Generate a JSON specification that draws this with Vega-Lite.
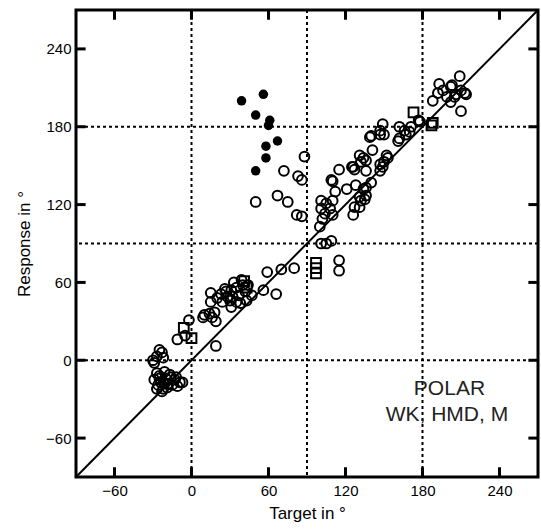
{
  "$schema": "https://vega.github.io/schema/vega-lite/v6.json",
  "width": 462,
  "height": 467,
  "autosize": {"type": "none"},
  "padding": {"left": 76, "top": 10, "right": 3, "bottom": 52},
  "background": "white",
  "datasets": {
    "pts": [
      {"t":-27,"r":-10,"k":"open"},{"t":-25,"r":-14,"k":"open"},{"t":-21,"r":-9,"k":"open"},{"t":-17,"r":-11,"k":"open"},{"t":-13,"r":-15,"k":"open"},{"t":-9,"r":-17,"k":"open"},{"t":-26,"r":-19,"k":"open"},{"t":-22,"r":-22,"k":"open"},{"t":-18,"r":-18,"k":"open"},{"t":-16,"r":-13,"k":"open"},{"t":-24,"r":-17,"k":"open"},{"t":-20,"r":-14,"k":"open"},{"t":-29,"r":-15,"k":"open"},{"t":-12,"r":-13,"k":"open"},{"t":-7,"r":-17,"k":"open"},{"t":-23,"r":-24,"k":"open"},{"t":-19,"r":-21,"k":"open"},{"t":-15,"r":-19,"k":"open"},{"t":-27,"r":-22,"k":"open"},{"t":-11,"r":-20,"k":"open"},{"t":-21,"r":-18,"k":"open"},{"t":-25,"r":-12,"k":"open"},
      {"t":-30,"r":0,"k":"open"},{"t":-23,"r":6,"k":"open"},{"t":-27,"r":3,"k":"open"},{"t":-22,"r":2,"k":"open"},{"t":-29,"r":-2,"k":"open"},{"t":-25,"r":8,"k":"open"},
      {"t":-11,"r":16,"k":"open"},{"t":-5,"r":19,"k":"open"},{"t":-2,"r":31,"k":"open"},{"t":9,"r":33,"k":"open"},{"t":10,"r":35,"k":"open"},{"t":18,"r":37,"k":"open"},{"t":19,"r":30,"k":"open"},{"t":16,"r":33,"k":"open"},{"t":19,"r":11,"k":"open"},{"t":14,"r":36,"k":"open"},
      {"t":39,"r":62,"k":"open"},{"t":40,"r":58,"k":"open"},{"t":35,"r":56,"k":"open"},{"t":31,"r":54,"k":"open"},{"t":27,"r":53,"k":"open"},{"t":23,"r":51,"k":"open"},{"t":15,"r":52,"k":"open"},{"t":32,"r":49,"k":"open"},{"t":37,"r":50,"k":"open"},{"t":30,"r":46,"k":"open"},{"t":35,"r":45,"k":"open"},{"t":43,"r":46,"k":"open"},{"t":15,"r":45,"k":"open"},{"t":31,"r":41,"k":"open"},{"t":26,"r":55,"k":"open"},{"t":44,"r":58,"k":"open"},{"t":28,"r":49,"k":"open"},{"t":38,"r":44,"k":"open"},{"t":20,"r":48,"k":"open"},{"t":42,"r":53,"k":"open"},{"t":33,"r":60,"k":"open"},{"t":24,"r":45,"k":"open"},
      {"t":47,"r":50,"k":"open"},{"t":56,"r":54,"k":"open"},{"t":66,"r":51,"k":"open"},{"t":59,"r":68,"k":"open"},{"t":70,"r":70,"k":"open"},{"t":80,"r":71,"k":"open"},
      {"t":115,"r":77,"k":"open"},{"t":115,"r":69,"k":"open"},{"t":101,"r":90,"k":"open"},{"t":105,"r":90,"k":"open"},{"t":109,"r":92,"k":"open"},
      {"t":88,"r":157,"k":"open"},{"t":72,"r":146,"k":"open"},{"t":83,"r":142,"k":"open"},{"t":86,"r":139,"k":"open"},{"t":50,"r":122,"k":"open"},{"t":67,"r":127,"k":"open"},{"t":75,"r":122,"k":"open"},{"t":82,"r":112,"k":"open"},{"t":86,"r":111,"k":"open"},
      {"t":100,"r":103,"k":"open"},{"t":102,"r":109,"k":"open"},{"t":101,"r":117,"k":"open"},{"t":101,"r":123,"k":"open"},{"t":108,"r":117,"k":"open"},{"t":110,"r":112,"k":"open"},{"t":110,"r":123,"k":"open"},{"t":112,"r":130,"k":"open"},{"t":109,"r":139,"k":"open"},{"t":105,"r":121,"k":"open"},{"t":104,"r":113,"k":"open"},{"t":115,"r":147,"k":"open"},{"t":121,"r":132,"k":"open"},{"t":126,"r":112,"k":"open"},{"t":127,"r":118,"k":"open"},{"t":131,"r":118,"k":"open"},{"t":131,"r":126,"k":"open"},{"t":135,"r":124,"k":"open"},{"t":134,"r":132,"k":"open"},{"t":128,"r":135,"k":"open"},{"t":136,"r":133,"k":"open"},{"t":140,"r":137,"k":"open"},{"t":125,"r":149,"k":"open"},{"t":127,"r":147,"k":"open"},{"t":131,"r":158,"k":"open"},{"t":132,"r":153,"k":"open"},{"t":136,"r":154,"k":"open"},{"t":141,"r":162,"k":"open"},{"t":147,"r":151,"k":"open"},{"t":152,"r":158,"k":"open"},{"t":150,"r":153,"k":"open"},{"t":147,"r":146,"k":"open"},{"t":139,"r":172,"k":"open"},{"t":147,"r":174,"k":"open"},{"t":161,"r":169,"k":"open"},{"t":134,"r":156,"k":"open"},{"t":149,"r":149,"k":"open"},{"t":126,"r":149,"k":"open"},{"t":136,"r":146,"k":"open"},{"t":136,"r":127,"k":"open"},{"t":132,"r":123,"k":"open"},{"t":110,"r":138,"k":"open"},{"t":162,"r":180,"k":"open"},{"t":162,"r":171,"k":"open"},{"t":149,"r":182,"k":"open"},{"t":147,"r":177,"k":"open"},{"t":140,"r":173,"k":"open"},{"t":167,"r":174,"k":"open"},{"t":171,"r":180,"k":"open"},{"t":166,"r":177,"k":"open"},{"t":170,"r":176,"k":"open"},{"t":150,"r":174,"k":"open"},{"t":177,"r":185,"k":"open"},{"t":178,"r":184,"k":"open"},{"t":153,"r":156,"k":"open"},
      {"t":209,"r":219,"k":"open"},{"t":193,"r":213,"k":"open"},{"t":203,"r":212,"k":"open"},{"t":213,"r":206,"k":"open"},{"t":188,"r":200,"k":"open"},{"t":210,"r":192,"k":"open"},{"t":202,"r":211,"k":"open"},{"t":210,"r":208,"k":"open"},{"t":214,"r":205,"k":"open"},{"t":206,"r":205,"k":"open"},{"t":199,"r":203,"k":"open"},{"t":192,"r":206,"k":"open"},{"t":202,"r":199,"k":"open"},{"t":205,"r":203,"k":"open"},{"t":196,"r":208,"k":"open"},
      {"t":-6,"r":25,"k":"square"},{"t":0,"r":17,"k":"square"},{"t":41,"r":61,"k":"square"},{"t":43,"r":56,"k":"square"},{"t":97,"r":67,"k":"square"},{"t":97,"r":71,"k":"square"},{"t":97,"r":75,"k":"square"},{"t":173,"r":191,"k":"square"},{"t":187,"r":181,"k":"square"},{"t":188,"r":183,"k":"square"},
      {"t":39,"r":200,"k":"filled"},{"t":56,"r":205,"k":"filled"},{"t":50,"r":189,"k":"filled"},{"t":61,"r":185,"k":"filled"},{"t":60,"r":181,"k":"filled"},{"t":67,"r":169,"k":"filled"},{"t":58,"r":165,"k":"filled"},{"t":58,"r":156,"k":"filled"},{"t":50,"r":146,"k":"filled"}
    ],
    "notes": [
      {"label": "POLAR", "nx": 201, "ny": -22},
      {"label": "WK, HMD, M", "nx": 199, "ny": -42}
    ],
    "tickvals": [{"tv": -60}, {"tv": 0}, {"tv": 60}, {"tv": 120}, {"tv": 180}, {"tv": 240}]
  },
  "layer": [
    {
      "data": {"values": [{"v": 0}, {"v": 90}, {"v": 180}]},
      "mark": {"type": "rule", "color": "black", "strokeWidth": 2, "strokeDash": [3, 3]},
      "encoding": {
        "x": {"field": "v", "type": "quantitative", "scale": {"domain": [-90, 270], "nice": false, "zero": false},
          "axis": {"orient": "bottom", "values": [-60, 0, 60, 120, 180, 240], "title": "Target in °", "labelPadding": 6, "titlePadding": 7}}
      }
    },
    {
      "data": {"values": [{"h": 0}, {"h": 90}, {"h": 180}]},
      "mark": {"type": "rule", "color": "black", "strokeWidth": 2, "strokeDash": [3, 3]},
      "encoding": {
        "y": {"field": "h", "type": "quantitative", "scale": {"domain": [-90, 270], "nice": false, "zero": false},
          "axis": {"orient": "left", "values": [-60, 0, 60, 120, 180, 240], "title": "Response in °", "labelPadding": 5, "titlePadding": 12}}
      }
    },
    {
      "data": {"values": [{"a": -90, "b": -90, "a2": 270, "b2": 270}]},
      "mark": {"type": "rule", "color": "black", "strokeWidth": 2},
      "encoding": {
        "x": {"field": "a", "type": "quantitative", "axis": null},
        "y": {"field": "b", "type": "quantitative", "axis": null},
        "x2": {"field": "a2"},
        "y2": {"field": "b2"}
      }
    },
    {
      "data": {"name": "tickvals"},
      "mark": {"type": "rule", "color": "black", "strokeWidth": 3},
      "encoding": {
        "x": {"field": "tv", "type": "quantitative", "axis": null},
        "y": {"datum": -90, "type": "quantitative", "axis": null},
        "y2": {"datum": -82.5}
      }
    },
    {
      "data": {"name": "tickvals"},
      "mark": {"type": "rule", "color": "black", "strokeWidth": 3},
      "encoding": {
        "x": {"field": "tv", "type": "quantitative", "axis": null},
        "y": {"datum": 270, "type": "quantitative", "axis": null},
        "y2": {"datum": 262.5}
      }
    },
    {
      "data": {"name": "tickvals"},
      "mark": {"type": "rule", "color": "black", "strokeWidth": 3},
      "encoding": {
        "y": {"field": "tv", "type": "quantitative", "axis": null},
        "x": {"datum": -90, "type": "quantitative", "axis": null},
        "x2": {"datum": -82.5}
      }
    },
    {
      "data": {"name": "tickvals"},
      "mark": {"type": "rule", "color": "black", "strokeWidth": 3},
      "encoding": {
        "y": {"field": "tv", "type": "quantitative", "axis": null},
        "x": {"datum": 270, "type": "quantitative", "axis": null},
        "x2": {"datum": 262.5}
      }
    },
    {
      "data": {"name": "pts"},
      "transform": [{"filter": "datum.k === 'open'"}],
      "mark": {"type": "point", "shape": "circle", "filled": false, "color": "black", "strokeWidth": 2, "size": 95, "opacity": 1},
      "encoding": {
        "x": {"field": "t", "type": "quantitative", "axis": null},
        "y": {"field": "r", "type": "quantitative", "axis": null}
      }
    },
    {
      "data": {"name": "pts"},
      "transform": [{"filter": "datum.k === 'square'"}],
      "mark": {"type": "point", "shape": "square", "filled": false, "color": "black", "strokeWidth": 2, "size": 95, "opacity": 1},
      "encoding": {
        "x": {"field": "t", "type": "quantitative", "axis": null},
        "y": {"field": "r", "type": "quantitative", "axis": null}
      }
    },
    {
      "data": {"name": "pts"},
      "transform": [{"filter": "datum.k === 'filled'"}],
      "mark": {"type": "point", "shape": "circle", "filled": true, "color": "black", "size": 90, "opacity": 1},
      "encoding": {
        "x": {"field": "t", "type": "quantitative", "axis": null},
        "y": {"field": "r", "type": "quantitative", "axis": null}
      }
    },
    {
      "data": {"name": "notes"},
      "mark": {"type": "text", "font": "Liberation Sans", "fontSize": 21, "color": "#222", "align": "center", "baseline": "middle"},
      "encoding": {
        "x": {"field": "nx", "type": "quantitative", "axis": null},
        "y": {"field": "ny", "type": "quantitative", "axis": null},
        "text": {"field": "label"}
      }
    }
  ],
  "resolve": {"axis": {"x": "independent", "y": "independent"}},
  "config": {
    "view": {"stroke": "black", "strokeWidth": 3},
    "axis": {
      "domain": false,
      "grid": false,
      "ticks": false,
      "labelFont": "Liberation Sans",
      "labelFontSize": 15,
      "labelColor": "black",
      "titleFont": "Liberation Sans",
      "titleFontSize": 17,
      "titleFontWeight": "normal",
      "titleColor": "black"
    }
  }
}
